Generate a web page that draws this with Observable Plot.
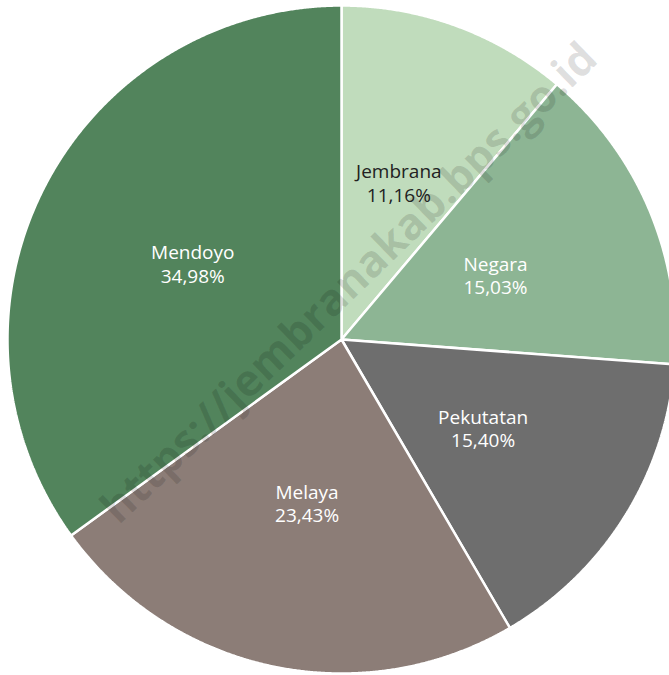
<!DOCTYPE html>
<html>
<head>
<meta charset="utf-8">
<script src="https://cdn.jsdelivr.net/npm/d3@7"></script>
<script src="https://cdn.jsdelivr.net/npm/@observablehq/plot@0.6"></script>
<style>
  html, body { margin: 0; padding: 0; background: #fff; }
  #chart svg { display: block; }
</style>
</head>
<body>
<div id="chart"></div>
<script>
const categories = ["Jembrana", "Negara", "Pekutatan", "Melaya", "Mendoyo"];
const values = [11.16, 15.03, 15.40, 23.43, 34.98];
const valueLabels = ["11,16%", "15,03%", "15,40%", "23,43%", "34,98%"];
const colors = ["#c0dcbc", "#8db594", "#6e6e6e", "#8c7d77", "#52845c"];
const labelColors = ["#222222", "#ffffff", "#ffffff", "#ffffff", "#ffffff"];
const watermark = "https://jembranakab.bps.go.id";

const R = 334;
const W = 669, H = 675;
const cx = 341, cy = 339;

const arcs = d3.pie().sort(null).value(d => d)(values);

const polys = [];
const labels = [];
arcs.forEach((a, i) => {
  const cat = categories[i];
  polys.push({cat, x: 0, y: 0});
  const n = Math.max(2, Math.ceil((a.endAngle - a.startAngle) / 0.004));
  for (let k = 0; k <= n; k++) {
    const t = a.startAngle + (a.endAngle - a.startAngle) * k / n;
    polys.push({cat, x: R * Math.sin(t), y: R * Math.cos(t)});
  }
  polys.push({cat, x: 0, y: 0});
  const mid = (a.startAngle + a.endAngle) / 2;
  const lr = R * 0.5;
  labels.push({cat, x: lr * Math.sin(mid), y: lr * Math.cos(mid),
    text: cat + "\n" + valueLabels[i], color: labelColors[i]});
});

const chart = Plot.plot({
  width: W,
  height: H,
  margin: 0,
  x: {domain: [-cx, W - cx], range: [0, W], axis: null},
  y: {domain: [cy - H, cy], range: [H, 0], axis: null},
  color: {domain: categories, range: colors},
  style: {background: "#fff"},
  marks: [
    Plot.line(polys, {x: "x", y: "y", z: "cat", fill: "cat", stroke: "#fff", strokeWidth: 2.5, strokeLinejoin: "miter", curve: "linear"}),
    Plot.text([watermark], {x: [8], y: [56], text: d => d, rotate: -44, fontSize: 44, fontWeight: "bold",
      fontFamily: "'Open Sans', sans-serif", fill: "#000", fillOpacity: 0.13}),
    Plot.text(labels, {x: "x", y: "y", text: "text", fill: "color", fontSize: 19, lineHeight: 1.25,
      fontFamily: "'Open Sans', 'Noto Sans', sans-serif"})
  ]
});
document.getElementById("chart").appendChild(chart);
</script>
</body>
</html>
